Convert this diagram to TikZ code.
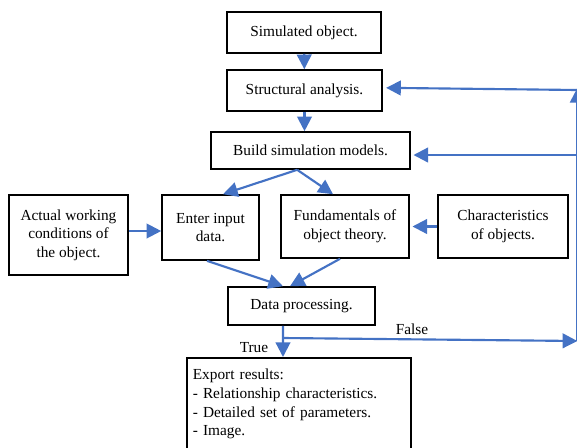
\documentclass[tikz,border=0pt]{standalone}
\usepackage{fontspec}
\setmainfont{Liberation Serif}
\usetikzlibrary{arrows.meta}

\definecolor{flowblue}{RGB}{68,114,196}

\tikzset{every picture/.style={line width=0.75pt}}
\tikzset{
  box/.style={draw=black, line width=1.2pt, inner sep=0pt, align=center,
    font=\fontsize{11.5}{14}\selectfont},
  flow/.style={draw=flowblue, line width=1.6pt,
    -{Triangle[length=11pt,width=11pt]}},
  lbl/.style={font=\fontsize{11.5}{14}\selectfont, inner sep=0pt}
}

\begin{document}
\begin{tikzpicture}[x=0.75pt,y=0.75pt,yscale=-1,xscale=1]
	%set diagram frame: 577 x 447
	\clip (0,0) rectangle (577,447);

	%Shape: Rectangle [id:simobj]
	\node [box, minimum width=115.5pt, minimum height=30.75pt] (simobj) at (304,32.5) {Simulated object.};
	%Shape: Rectangle [id:struct]
	\node [box, minimum width=116.25pt, minimum height=30.75pt] (struct) at (304.5,90.5) {Structural analysis.};
	%Shape: Rectangle [id:build]
	\node [box, minimum width=149.25pt, minimum height=27.75pt] (build) at (310.5,150.5) {Build simulation models.};
	%Shape: Rectangle [id:actual]
	\node [box, minimum width=89.25pt, minimum height=60pt] (actual) at (68.5,235) {Actual working\\ conditions of\\ the object.};
	%Shape: Rectangle [id:enter]
	\node [box, minimum width=72.75pt, minimum height=48.75pt] (enter) at (210.5,227.5) {Enter input\\ data.};
	%Shape: Rectangle [id:fund]
	\node [box, minimum width=96pt, minimum height=47.25pt] (fund) at (345,226.5) {Fundamentals of\\ object theory.};
	%Shape: Rectangle [id:charact]
	\node [box, minimum width=97.5pt, minimum height=47.25pt] (charact) at (503,226.5) {Characteristics\\ of objects.};
	%Shape: Rectangle [id:data]
	\node [box, minimum width=110.25pt, minimum height=28.5pt] (data) at (301.5,306) {Data processing.};
	%Shape: Rectangle [id:export]
	\node [box, anchor=north west, align=left, text width=159pt, minimum height=69.75pt, inner xsep=4.5pt] (export) at (186,357) {Export results:\\ - Relationship characteristics.\\ - Detailed set of parameters.\\ - Image.};

	%Coordinates of the feedback loop
	\coordinate (tbranch) at (283,338);
	\coordinate (fcorner) at (577.3,341);
	\coordinate (ftop) at (577.3,88);
	\coordinate (fstruct) at (577.3,90);
	\coordinate (fbuild) at (577.3,155);

	%Straight Lines
	\draw [flow] (simobj) -- (struct);
	\draw [flow] (struct.south) -- (struct.south |- build.north);
	\draw [flow] ([xshift=-10pt]build.south) -- ([xshift=9.4pt]enter.north);
	\draw [flow] ([xshift=-10pt]build.south) -- ([xshift=-9pt]fund.north);
	\draw [flow] ([yshift=-3pt]actual.east) -- ([yshift=-3pt]actual.east -| enter.west);
	\draw [flow] (charact.west) -- ([xshift=2pt]charact.west -| fund.east);
	\draw [flow] ([xshift=-2.6pt]enter.south) -- ([xshift=-13.9pt]data.north);
	\draw [flow] ([xshift=-3.75pt]fund.south) -- ([xshift=-8.6pt]data.north);
	\draw [flow] ([xshift=-13.9pt]data.south) -- (tbranch |- export.north);
	\draw [flow] (tbranch) -- (fcorner);
	\draw [flow] (fcorner) -- (ftop);
	\draw [flow] (fstruct) -- ([xshift=2.5pt,yshift=-2pt]struct.east);
	\draw [flow] (fbuild) -- ([xshift=2pt]fbuild -| build.east);

	% Text Node
	\node [lbl] (truelbl) at (254,348) {True};
	% Text Node
	\node [lbl] (falselbl) at (412,329) {False};

\end{tikzpicture}
\end{document}
